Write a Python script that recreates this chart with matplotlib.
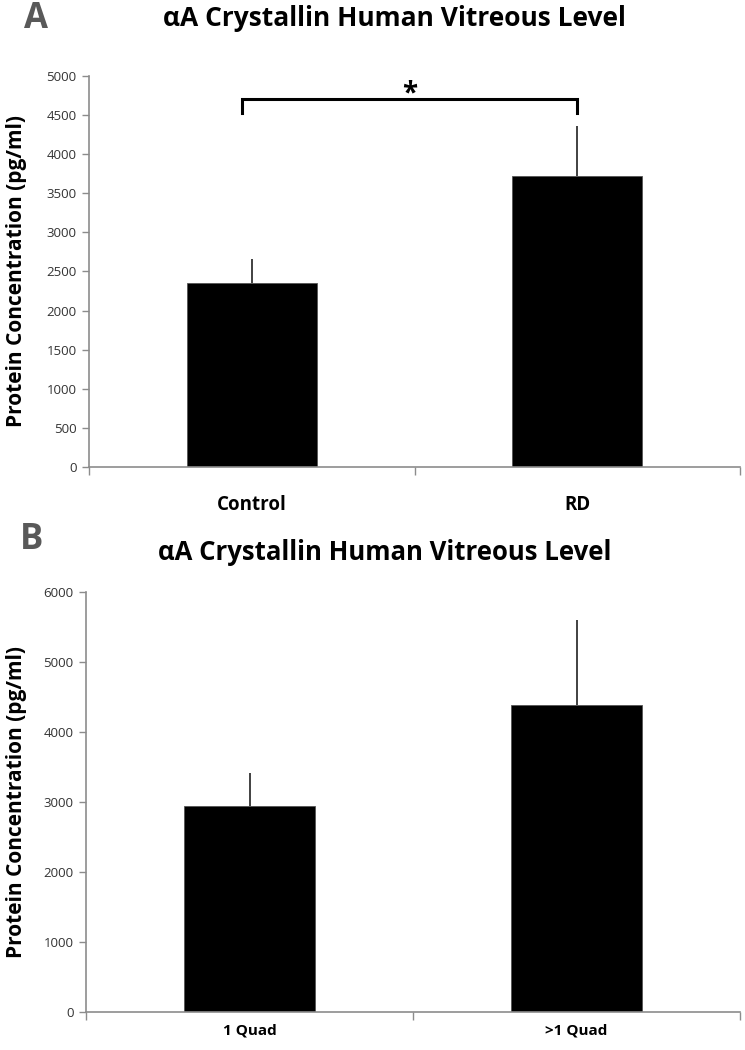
import matplotlib.pyplot as plt
from matplotlib.ticker import FixedLocator

# --- data ---
cats_a = ["Control", "RD"]
means_a = [2350, 3720]
errs_a = [310, 640]

cats_b = ["1 Quad", ">1 Quad"]
means_b = [2950, 4380]
errs_b = [470, 1220]

title = "\u03b1A Crystallin Human Vitreous Level"
ylab = "Protein Concentration (pg/ml)"

plt.rcParams["font.family"] = ["Open Sans", "DejaVu Sans"]

W, H = 745, 1050
fig = plt.figure(figsize=(W / 100, H / 100), dpi=100)


def px_axes(x0, y0, x1, y1):
    return fig.add_axes([x0 / W, 1 - y1 / H, (x1 - x0) / W, (y1 - y0) / H])


def style(ax, cats, means, errs, ymax, step, xsize, xpad):
    x = range(len(cats))
    ax.bar(x, means, width=0.4, color="black", edgecolor="#555555", linewidth=0.6, zorder=2)
    ax.errorbar(x, means, yerr=[[0] * len(errs), errs], fmt="none",
                ecolor="#333333", elinewidth=1.3, capsize=0, zorder=3)
    ax.set_xlim(-0.5, len(cats) - 0.5)
    ax.set_ylim(0, ymax)
    ax.set_yticks(range(0, ymax + 1, step))
    ax.tick_params(axis="y", direction="out", length=5, width=1, color="#8c8c8c",
                   labelsize=9.5, labelcolor="#333333", pad=4)
    ax.set_xticks(list(x))
    ax.set_xticklabels(cats, fontsize=xsize, fontweight="bold")
    ax.tick_params(axis="x", which="major", length=0, pad=xpad)
    ax.xaxis.set_minor_locator(FixedLocator([-0.5, 0.5, len(cats) - 0.5]))
    ax.tick_params(axis="x", which="minor", direction="out", length=6, width=1, color="#8c8c8c")
    for s in ["top", "right"]:
        ax.spines[s].set_visible(False)
    for s in ["left", "bottom"]:
        ax.spines[s].set_color("#8c8c8c")
        ax.spines[s].set_linewidth(1.2)
    ax.set_ylabel(ylab, fontsize=15, fontweight="bold")


# --- panel A ---
ax1 = px_axes(89, 76, 740, 467)
style(ax1, cats_a, means_a, errs_a, 5000, 500, 13.5, 20)
ax1.yaxis.set_label_coords(-0.095, 0.5)

# significance bracket
bx0, bx1, by, bdrop = -0.03, 1.0, 4700, 170
ax1.plot([bx0, bx0, bx1, bx1], [by - bdrop, by, by, by - bdrop], color="black",
         linewidth=2.2, solid_joinstyle="miter", clip_on=False, zorder=4)
ax1.text((bx0 + bx1) / 2, by - 20, "*", ha="center", va="baseline", fontsize=20,
         fontweight="bold")

# --- panel B ---
ax2 = px_axes(86, 592, 740, 1012)
style(ax2, cats_b, means_b, errs_b, 6000, 1000, 11, 8)
ax2.yaxis.set_label_coords(-0.09, 0.5)

# panel letters and titles
fig.text(36 / W, 1 - 19 / H, "A", fontsize=25, fontweight="bold", color="#595959",
         ha="center", va="center")
fig.text(394 / W, 1 - 18 / H, title, fontsize=19, fontweight="bold",
         ha="center", va="center")
fig.text(32 / W, 1 - 540 / H, "B", fontsize=25, fontweight="bold", color="#595959",
         ha="center", va="center")
fig.text(385 / W, 1 - 553 / H, title, fontsize=18.5, fontweight="bold",
         ha="center", va="center")

fig.savefig("out.png", dpi=100)
